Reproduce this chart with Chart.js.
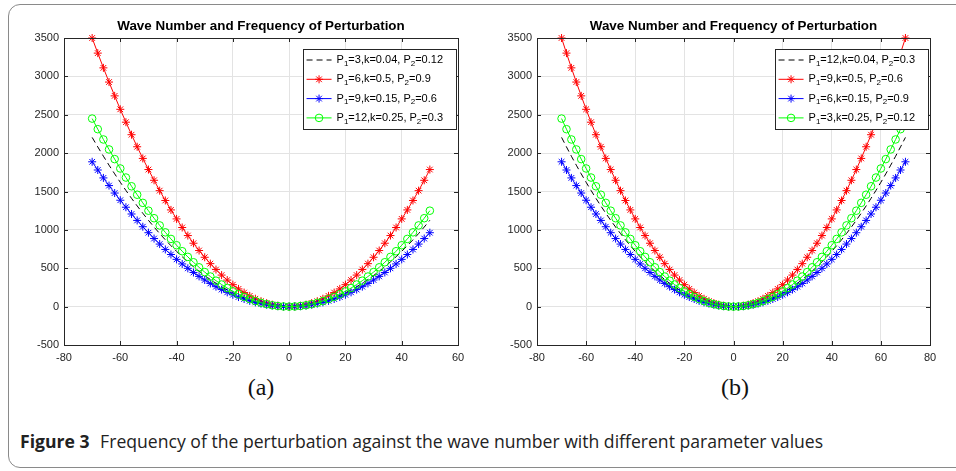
<!DOCTYPE html>
<html>
<head>
<meta charset="utf-8">
<script src="https://cdn.jsdelivr.net/npm/chart.js@4.4.1/dist/chart.umd.min.js"></script>
<style>
  body { margin:0; background:#fff; width:956px; height:471px; overflow:hidden; position:relative; }
  #frame { position:absolute; left:8px; top:4px; width:1000px; height:462px; border:1.5px solid #8a8a8a; border-radius:12px; }
  .panel { position:absolute; top:0; }
  .sub { position:absolute; top:374px; width:60px; text-align:center; font-family:"Liberation Serif","DejaVu Serif",serif; font-size:24px; color:#111; }
  #caption { position:absolute; left:20px; top:429px; font-family:"Open Sans",sans-serif; font-size:17.6px; letter-spacing:0; color:#222; white-space:nowrap; }
  #caption b { font-weight:700; margin-right:6px; }
</style>
</head>
<body>
<div id="frame"></div>
<canvas id="chartA" class="panel" style="left:0" width="478" height="372"></canvas>
<canvas id="chartB" class="panel" style="left:478px" width="478" height="372"></canvas>
<div class="sub" style="left:231px">(a)</div>
<div class="sub" style="left:705px">(b)</div>
<div id="caption"><b>Figure 3</b> Frequency of the perturbation against the wave number with different parameter values</div>

<script>
// -----------------------------
// Datos
// -----------------------------
const waveK = [-70,-68,-66,-64,-62,-60,-58,-56,-54,-52,-50,-48,-46,-44,-42,-40,-38,-36,-34,-32,-30,-28,-26,-24,-22,-20,-18,-16,-14,-12,-10,-8,-6,-4,-2,0,
  2,4,6,8,10,12,14,16,18,20,22,24,26,28,30,32,34,36,38,40,42,44,46,48,50,52,54,56,58,60,62,64,66,68,70];

const omegaDashed = [2205,2081,1960,1843,1730,1620,1514,1411,1312,1217,1125,1037,952,871,794,720,650,583,520,461,405,353,304,259,218,180,146,115,88,65,45,29,16,7,2,0,
  2,7,16,29,45,65,88,115,146,180,218,259,304,353,405,461,520,583,650,720,794,871,952,1037,1125,1217,1312,1411,1514,1620,1730,1843,1960,2081,2205];
const omegaRed = [3500,3303,3111,2926,2746,2571,2403,2240,2083,1931,1786,1646,1511,1383,1260,1143,1031,926,826,731,643,560,483,411,346,286,231,183,140,103,71,46,26,11,3,0,
  3,11,26,46,71,103,140,183,231,286,346,411,483,560,643,731,826,926,1031,1143,1260,1383,1511,1646,1786,1931,2083,2240,2403,2571,2746,2926,3111,3303,3500];
const omegaBlue = [1887,1780,1677,1577,1480,1386,1295,1207,1123,1041,963,887,815,745,679,616,556,499,445,394,347,302,260,222,186,154,125,99,75,55,39,25,14,6,2,0,
  2,6,14,25,39,55,75,99,125,154,186,222,260,302,347,394,445,499,556,616,679,745,815,887,963,1041,1123,1207,1295,1386,1480,1577,1677,1780,1887];
const omegaGreen = [2450,2312,2178,2048,1922,1800,1682,1568,1458,1352,1250,1152,1058,968,882,800,722,648,578,512,450,392,338,288,242,200,162,128,98,72,50,32,18,8,2,0,
  2,8,18,32,50,72,98,128,162,200,242,288,338,392,450,512,578,648,722,800,882,968,1058,1152,1250,1352,1458,1568,1682,1800,1922,2048,2178,2312,2450];

const labelsA = ['P₁=3,k=0.04, P₂=0.12', 'P₁=6,k=0.5, P₂=0.9', 'P₁=9,k=0.15, P₂=0.6', 'P₁=12,k=0.25, P₂=0.3'];
const labelsB = ['P₁=12,k=0.04, P₂=0.3', 'P₁=9,k=0.5, P₂=0.6', 'P₁=6,k=0.15, P₂=0.9', 'P₁=3,k=0.25, P₂=0.12'];

const yTicks = [-500,0,500,1000,1500,2000,2500,3000,3500];
const xTicksA = [-80,-60,-40,-20,0,20,40,60];
const xTicksB = [-80,-60,-40,-20,0,20,40,60,80];

const chartTitle = 'Wave Number and Frequency of Perturbation';
const kMaxA = 50;   // la figura (a) termina en k=50

// -----------------------------
// Plugin estilo MATLAB: caja, ticks hacia dentro, título y leyenda
// -----------------------------
const FUENTE = '"Liberation Sans", Arial, sans-serif';
const SUBS = '₀₁₂₃₄₅₆₇₈₉';
function richWidth(ctx, txt) {
  let w = 0;
  for (const ch of txt) {
    const i = SUBS.indexOf(ch);
    ctx.font = (i >= 0 ? '8px ' : '11px ') + FUENTE;
    w += ctx.measureText(i >= 0 ? String(i) : ch).width;
  }
  return w;
}
function richText(ctx, txt, x, y) {
  for (const ch of txt) {
    const i = SUBS.indexOf(ch);
    const c = i >= 0 ? String(i) : ch;
    ctx.font = (i >= 0 ? '8px ' : '11px ') + FUENTE;
    ctx.fillText(c, x, i >= 0 ? y + 3.5 : y);
    x += ctx.measureText(c).width;
  }
}

const matlabAxes = {
  id: 'matlabAxes',
  afterDatasetsDraw(chart) {
    const {ctx, chartArea: a, scales} = chart;
    ctx.save();
    ctx.strokeStyle = '#262626';
    ctx.lineWidth = 1;
    ctx.strokeRect(Math.round(a.left) + 0.5, Math.round(a.top) + 0.5, Math.round(a.right - a.left), Math.round(a.bottom - a.top));
    const tl = 4;
    ctx.beginPath();
    scales.x.ticks.forEach(t => {
      const px = Math.round(scales.x.getPixelForValue(t.value)) + 0.5;
      ctx.moveTo(px, a.bottom); ctx.lineTo(px, a.bottom - tl);
      ctx.moveTo(px, a.top); ctx.lineTo(px, a.top + tl);
    });
    scales.y.ticks.forEach(t => {
      const py = Math.round(scales.y.getPixelForValue(t.value)) + 0.5;
      ctx.moveTo(a.left, py); ctx.lineTo(a.left + tl, py);
      ctx.moveTo(a.right, py); ctx.lineTo(a.right - tl, py);
    });
    ctx.stroke();
    ctx.restore();
  },
  afterDraw(chart) {
    const {ctx, chartArea: a} = chart;
    ctx.save();
    // título
    ctx.fillStyle = '#000';
    ctx.font = 'bold 13.4px ' + FUENTE;
    ctx.textAlign = 'center';
    ctx.textBaseline = 'middle';
    ctx.fillText(chartTitle, (a.left + a.right) / 2, 26);
    // leyenda
    const ds = chart.data.datasets;
    ctx.textAlign = 'left';
    let tw = 0;
    ds.forEach(d => { tw = Math.max(tw, richWidth(ctx, d.label)); });
    const right = a.right - 2, top = a.top + 11;
    const w = 34 + tw + 13, h = 80;
    const left = right - w;
    ctx.fillStyle = '#fff';
    ctx.fillRect(left, top, w, h);
    ctx.strokeStyle = '#262626';
    ctx.lineWidth = 1;
    ctx.strokeRect(Math.round(left) + 0.5, top + 0.5, Math.round(w), h);
    ds.forEach((d, i) => {
      const y = top + 11 + i * 19.3;
      ctx.strokeStyle = d.borderColor;
      ctx.setLineDash(d.borderDash || []);
      ctx.beginPath();
      ctx.moveTo(left + 4, y); ctx.lineTo(left + 29, y);
      ctx.stroke();
      ctx.setLineDash([]);
      if (d.pointRadius > 0) {
        ctx.fillStyle = d.pointBackgroundColor;
        Chart.helpers.drawPoint(ctx, {pointStyle: d.pointStyle, radius: d.pointRadius, borderWidth: 1}, left + 16.5, y);
      }
      ctx.fillStyle = '#000';
      richText(ctx, d.label, left + 34, y);
    });
    ctx.restore();
  }
};

// -----------------------------
// Construcción de gráficos
// -----------------------------
function serie(vals, n) {
  return waveK.slice(0, n).map((k, i) => ({x: k, y: vals[i]}));
}

function crearGrafico(id, labels, xTicks, n, yAxisW, padRight) {
  const estilos = [
    {data: serie(omegaDashed, n), borderColor: '#000', borderDash: [6, 4], pointRadius: 0, order: 4},
    {data: serie(omegaRed, n), borderColor: '#ff0000', pointStyle: 'star', pointRadius: 4, pointBorderColor: '#ff0000', pointBackgroundColor: '#ff0000', order: 3},
    {data: serie(omegaBlue, n), borderColor: '#0000ff', pointStyle: 'star', pointRadius: 4, pointBorderColor: '#0000ff', pointBackgroundColor: '#0000ff', order: 2},
    {data: serie(omegaGreen, n), borderColor: '#00ff00', pointStyle: 'circle', pointRadius: 3.8, pointBorderColor: '#00ff00', pointBackgroundColor: 'rgba(0,0,0,0)', order: 1}
  ];
  estilos.forEach((d, i) => {
    d.label = labels[i];
    d.borderWidth = 1;
    d.pointBorderWidth = 1;
    d.pointHoverRadius = d.pointRadius;
    d.fill = false;
    d.tension = 0;
    d.clip = false;
  });
  const tickFont = {family: FUENTE, size: 11};
  return new Chart(document.getElementById(id), {
    type: 'line',
    data: {datasets: estilos},
    options: {
      responsive: false,
      animation: false,
      events: [],
      layout: {padding: {left: 0, right: padRight, top: 38, bottom: 7}},
      plugins: {legend: {display: false}, tooltip: {enabled: false}, title: {display: false}},
      scales: {
        x: {
          type: 'linear',
          min: xTicks[0], max: xTicks[xTicks.length - 1],
          afterFit: s => { s.height = 20; },
          afterBuildTicks: s => { s.ticks = xTicks.map(v => ({value: v})); },
          grid: {color: '#e3e3e3', drawTicks: false},
          border: {display: false},
          ticks: {padding: 6, color: '#262626', font: tickFont, maxRotation: 0, autoSkip: false, callback: v => String(v)}
        },
        y: {
          min: yTicks[0], max: yTicks[yTicks.length - 1],
          afterFit: s => { s.width = yAxisW; },
          afterBuildTicks: s => { s.ticks = yTicks.map(v => ({value: v})); },
          grid: {color: '#e3e3e3', drawTicks: false},
          border: {display: false},
          ticks: {padding: 5, color: '#262626', font: tickFont, autoSkip: false, callback: v => String(v)}
        }
      }
    },
    plugins: [matlabAxes]
  });
}

crearGrafico('chartA', labelsA, xTicksA, waveK.indexOf(kMaxA) + 1, 64, 20);
crearGrafico('chartB', labelsB, xTicksB, waveK.length, 59, 26);
</script>
</body>
</html>
